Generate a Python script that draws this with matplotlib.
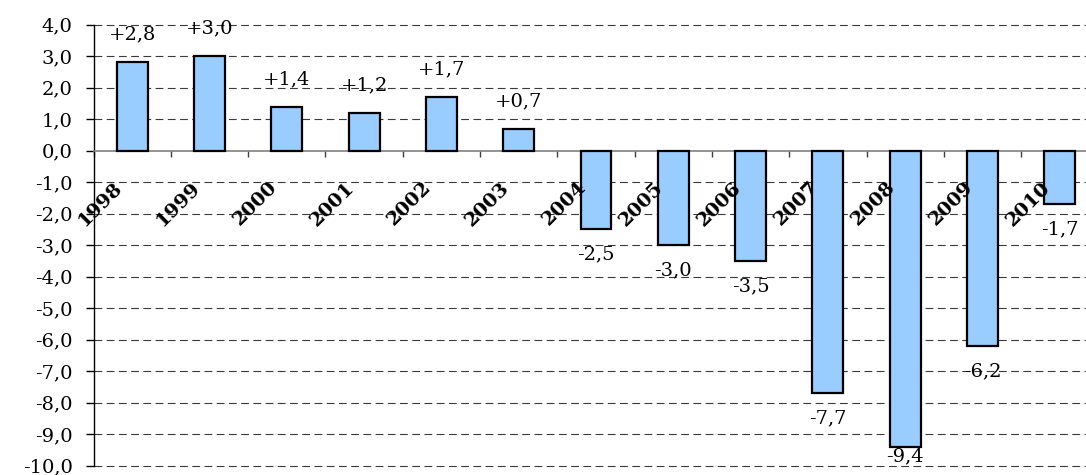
import numpy as np
import matplotlib.pyplot as plt

# values
years = ['1998', '1999', '2000', '2001', '2002', '2003', '2004',
         '2005', '2006', '2007', '2008', '2009', '2010']
values = [2.8, 3.0, 1.4, 1.2, 1.7, 0.7, -2.5, -3.0, -3.5, -7.7, -9.4, -6.2, -1.7]
yticks = np.arange(-10, 5, 1)

plt.rcParams['font.family'] = 'DejaVu Serif'

fig = plt.figure(figsize=(10.86, 4.75), dpi=100)
ax = fig.add_axes([0.0861, 0.0196, 0.9254, 0.9284])

x = np.arange(len(years))
ax.bar(x, values, width=0.4, color='#99ccff', edgecolor='black', linewidth=1.6, zorder=3)

ax.set_xlim(-0.5, len(years) - 0.5)
ax.set_ylim(-10, 4)

# dashed grid
for v in yticks:
    if v != 0:
        ax.axhline(v, color='#3a3a3a', lw=0.8, ls=(0, (7, 4)), zorder=1, clip_on=False)

ax.spines['top'].set_visible(False)
ax.spines['right'].set_visible(False)
ax.spines['bottom'].set_position(('data', 0))
ax.spines['bottom'].set_color('#808080')
ax.spines['bottom'].set_linewidth(1.2)
ax.spines['left'].set_linewidth(1.0)

ax.set_yticks(yticks)
ax.set_yticklabels([f"{v:.1f}".replace('.', ',') for v in yticks], fontsize=14)
ax.tick_params(axis='y', direction='out', length=6, width=1, pad=9)

# ticks between categories, labels placed by hand
ax.set_xticks(np.arange(-0.5, len(years), 1))
ax.set_xticklabels([])
ax.tick_params(axis='x', direction='out', length=4, width=1, color='#404040')

for i, yr in enumerate(years):
    ax.text(i - 0.08, -0.88, yr, rotation=45, ha='right', va='top',
            fontsize=14, fontweight='bold', zorder=5)

for i, v in enumerate(values):
    s = f"{v:+.1f}".replace('.', ',')
    if v >= 0:
        ax.text(i, v + 0.88, s, ha='center', va='center', fontsize=14, zorder=5)
    else:
        ax.text(i, max(v - 0.8, -9.7), s, ha='center', va='center',
                fontsize=14, zorder=5, clip_on=False)

fig.savefig('out.png', dpi=100)
